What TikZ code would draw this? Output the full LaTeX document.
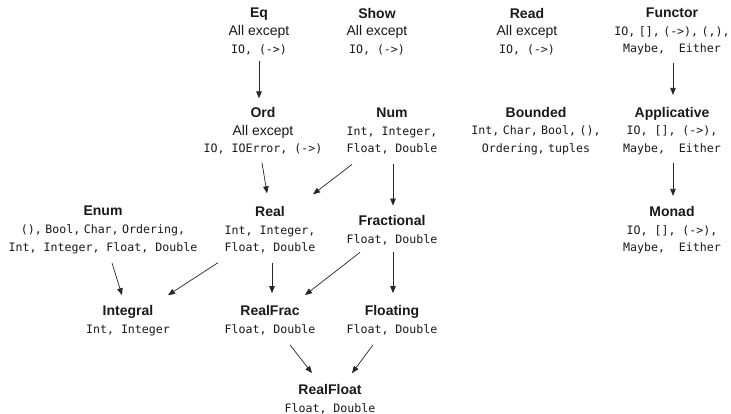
\documentclass[tikz,border=0pt]{standalone}
\usepackage{fontspec}
\setsansfont{Liberation Sans}
\setmonofont{DejaVu Sans Mono}
\usetikzlibrary{arrows.meta}
\newcommand\tys{\ttfamily\fontsize{11.6}{17.6}\selectfont}
\newcommand\nsp{\hspace{3.5pt}}

\begin{document}
\begin{tikzpicture}[x=1pt,y=-1pt,
  cls/.style={align=center,inner sep=0pt,text=black!90,font=\sffamily\fontsize{14}{17.6}\selectfont},
  arr/.style={-{Triangle[length=7pt,width=5.5pt]},line width=0.7pt,draw=black!85}]
\useasboundingbox (0,0) rectangle (731,414);


% Part A: Classes, top row


\node[cls] (eq)      at (259,31.5) {\textbf{Eq}\\ All except\\ \tys IO, (->)};
\node[cls] (show)    at (377,31.5) {\textbf{Show}\\ All except\\ \tys IO, (->)};
\node[cls] (read)    at (527,31.5) {\textbf{Read}\\ All except\\ \tys IO, (->)};
\node[cls] (functor) at (672,31.5) {\textbf{Functor}\\ \tys IO,\nsp[],\nsp(->),\nsp(,),\\ \tys Maybe, ~Either};

% second row
\node[cls] (ord)     at (263,131) {\textbf{Ord}\\ All except\\ \tys IO, IOError, (->)};
\node[cls] (num)     at (392,131) {\textbf{Num}\\ \tys Int, Integer,\\ \tys Float, Double};
\node[cls] (bounded) at (536,131) {\textbf{Bounded}\\ \tys Int,\nsp Char,\nsp Bool,\nsp(),\\ \tys Ordering,\nsp tuples};
\node[cls] (applic)  at (672,131) {\textbf{Applicative}\\ \tys IO, [], (->),\\ \tys Maybe, ~Either};

% third row
\node[cls] (enum)    at (103,230) {\textbf{Enum}\\ \tys (),\nsp Bool,\nsp Char,\nsp Ordering,\\ \tys Int, Integer, Float, Double};
\node[cls] (real)    at (270,230) {\textbf{Real}\\ \tys Int, Integer,\\ \tys Float, Double};
\node[cls] (frac)    at (392,230.5) {\textbf{Fractional}\\ \tys Float, Double};
\node[cls] (monad)   at (672,230.5) {\textbf{Monad}\\ \tys IO, [], (->),\\ \tys Maybe, ~Either};

% fourth row
\node[cls] (integral)  at (128,320.5) {\textbf{Integral}\\ \tys Int, Integer};
\node[cls] (realfrac)  at (270,320) {\textbf{RealFrac}\\ \tys Float, Double};
\node[cls] (floating)  at (392,320) {\textbf{Floating}\\ \tys Float, Double};
\node[cls] (realfloat) at (330,399) {\textbf{RealFloat}\\ \tys Float, Double};


% Part B: Superclass arrows


\draw[arr] ([shift={(0,6.5)}]eq.south) -- ([shift={(-4,-9)}]ord.north);
\draw[arr] ([shift={(1,7.5)}]functor.south) -- ([shift={(1,-12)}]applic.north);
\draw[arr] ([shift={(1,8)}]applic.south) -- ([shift={(1,-10.5)}]monad.north);

\draw[arr] ([shift={(-1,8)}]ord.south) -- ([shift={(-3,-13)}]real.north);
\draw[arr] ([shift={(-40,10)}]num.south) -- ([shift={(43,-12)}]real.north);
\draw[arr] ([shift={(1,10)}]num.south) -- ([shift={(1,-10)}]frac.north);

\draw[arr] ([shift={(9,9)}]enum.south) -- ([shift={(-6,-10)}]integral.north);
\draw[arr] ([shift={(-52,9)}]real.south) -- ([shift={(40,-10)}]integral.north);
\draw[arr] ([shift={(2,9)}]real.south) -- ([shift={(2,-12)}]realfrac.north);
\draw[arr] ([shift={(-32,7)}]frac.south) -- ([shift={(35,-10)}]realfrac.north);
\draw[arr] ([shift={(1,7)}]frac.south) -- ([shift={(1,-12)}]floating.north);

\draw[arr] ([shift={(20,10)}]realfrac.south) -- ([shift={(-18,-11)}]realfloat.north);
\draw[arr] ([shift={(-19,10)}]floating.south) -- ([shift={(22,-11)}]realfloat.north);

\end{tikzpicture}
\end{document}
